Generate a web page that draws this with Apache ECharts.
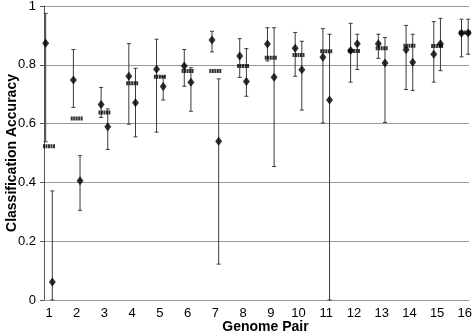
<!DOCTYPE html>
<html>
<head>
<meta charset="utf-8">
<title>Classification Accuracy by Genome Pair</title>
<script src="https://cdn.jsdelivr.net/npm/echarts@6/dist/echarts.min.js"></script>
<style>
    html, body { margin: 0; padding: 0; background: #fff; }
    #chart { width: 473px; height: 336px; }
</style>
</head>
<body>
<div id="chart"></div>
<script>
// genome pairs on the x axis
var pairLabels = ['1', '2', '3', '4', '5', '6', '7', '8', '9', '10', '11', '12', '13', '14', '15', '16']
var yTicks = [0, 0.2, 0.4, 0.6, 0.8, 1]

// left diamonds + error bars
var leftAcc = [0.873, 0.748, 0.665, 0.761, 0.785, 0.796, 0.884, 0.830, 0.871, 0.856, 0.826, 0.849, 0.872, 0.851, 0.836, 0.907]
var leftHigh = [0.975, 0.852, 0.723, 0.872, 0.887, 0.852, 0.914, 0.889, 0.926, 0.910, 0.923, 0.941, 0.904, 0.934, 0.947, 0.955]
var leftLow = [0.538, 0.655, 0.621, 0.598, 0.571, 0.727, 0.844, 0.757, 0.813, 0.761, 0.602, 0.741, 0.822, 0.716, 0.741, 0.827]

// middle dashed marks
var midAcc = [0.523, 0.617, 0.638, 0.737, 0.759, 0.779, 0.779, 0.796, 0.824, 0.833, 0.846, 0.847, 0.856, 0.865, 0.864, 0.910]

// right diamonds + error bars
var rightAcc = [0.061, 0.406, 0.589, 0.671, 0.726, 0.741, 0.540, 0.743, 0.758, 0.783, 0.680, 0.872, 0.806, 0.809, 0.872, 0.908]
var rightHigh = [0.371, 0.491, 0.650, 0.788, 0.760, 0.790, 0.752, 0.855, 0.926, 0.880, 0.904, 0.904, 0.893, 0.904, 0.958, 0.955]
var rightLow = [0, 0.305, 0.512, 0.555, 0.680, 0.642, 0.122, 0.693, 0.454, 0.646, 0, 0.784, 0.604, 0.713, 0.780, 0.836]

var shift = 0.12 // side offset of the diamonds from the pair position

function points(vals, dx) {
    var out = []
    for (var i = 0; i < vals.length; i++) {
        out.push([i + 1 + dx, vals[i]])
    }
    return out
}
function bars(lo, hi, dx) {
    var out = []
    for (var i = 0; i < lo.length; i++) {
        out.push([i + 1 + dx, lo[i], hi[i]])
    }
    return out
}

function renderBar(params, api) {
    var x = api.value(0)
    var top = api.coord([x, api.value(2)])
    var bot = api.coord([x, api.value(1)])
    var cap = 2
    var st = { stroke: '#3a3a3a', lineWidth: 1 }
    return {
        type: 'group',
        children: [
            { type: 'line', shape: { x1: top[0], y1: top[1], x2: bot[0], y2: bot[1] }, style: st },
            { type: 'line', shape: { x1: top[0] - cap, y1: top[1], x2: top[0] + cap, y2: top[1] }, style: st },
            { type: 'line', shape: { x1: bot[0] - cap, y1: bot[1], x2: bot[0] + cap, y2: bot[1] }, style: st }
        ]
    }
}

var chart = echarts.init(document.getElementById('chart'))
var option = {
    animation: false,
    backgroundColor: '#fff',
    grid: {
        left: 44,
        right: 4,
        top: 6,
        bottom: 36,
        outerBoundsMode: 'none'
    },
    xAxis: {
        type: 'value',
        min: 0.82,
        max: 16.15,
        name: 'Genome Pair',
        nameLocation: 'middle',
        nameGap: 20,
        nameMoveOverlap: false,
        nameTextStyle: {
            fontFamily: 'Liberation Sans',
            fontWeight: 'bold',
            fontSize: 14,
            color: '#000',
            padding: [0, 0, 0, 18]
        },
        axisLine: { show: true, onZero: false, lineStyle: { color: '#999', width: 1 } },
        axisTick: { show: false },
        splitLine: { show: false },
        axisLabel: {
            customValues: [1, 2, 3, 4, 5, 6, 7, 8, 9, 10, 11, 12, 13, 14, 15, 16],
            formatter: function (v) { return pairLabels[Math.round(v) - 1] },
            fontFamily: 'Liberation Sans',
            fontSize: 13,
            color: '#000',
            margin: 7
        }
    },
    yAxis: {
        type: 'value',
        min: 0,
        max: 1,
        interval: 0.2,
        name: 'Classification Accuracy',
        nameLocation: 'middle',
        nameRotate: 90,
        nameGap: 25,
        nameMoveOverlap: false,
        nameTextStyle: {
            fontFamily: 'Liberation Sans',
            fontWeight: 'bold',
            fontSize: 14,
            color: '#000'
        },
        axisLine: { show: true, lineStyle: { color: '#555', width: 1 } },
        axisTick: { show: true, length: 4, lineStyle: { color: '#555' } },
        splitLine: { show: true, lineStyle: { color: '#999', width: 1 } },
        axisLabel: {
            formatter: function (v) {
                for (var i = 0; i < yTicks.length; i++) {
                    if (Math.abs(yTicks[i] - v) < 1e-6) return String(yTicks[i])
                }
                return ''
            },
            fontFamily: 'Liberation Sans',
            fontSize: 13,
            color: '#000',
            margin: 8
        }
    },
    series: [
        {
            name: 'left range',
            type: 'custom',
            renderItem: renderBar,
            data: bars(leftLow, leftHigh, -shift),
            z: 2
        },
        {
            name: 'right range',
            type: 'custom',
            renderItem: renderBar,
            data: bars(rightLow, rightHigh, shift),
            z: 2
        },
        {
            name: 'middle',
            type: 'scatter',
            symbol: 'path://M0,0h2.4v3h-2.4z M3,0h2.4v3h-2.4z M6,0h2.4v3h-2.4z M9,0h2.4v3h-2.4z M12,0h2.4v3h-2.4z',
            symbolSize: [12, 4],
            itemStyle: { color: '#000' },
            data: points(midAcc, 0),
            z: 3
        },
        {
            name: 'left',
            type: 'scatter',
            symbol: 'diamond',
            symbolSize: [7, 9],
            itemStyle: { color: '#000' },
            data: points(leftAcc, -shift),
            z: 4
        },
        {
            name: 'right',
            type: 'scatter',
            symbol: 'diamond',
            symbolSize: [7, 9],
            itemStyle: { color: '#000' },
            data: points(rightAcc, shift),
            z: 4
        }
    ]
}
chart.setOption(option)
window.addEventListener('resize', function () {
    chart.resize()
})
</script>
</body>
</html>
